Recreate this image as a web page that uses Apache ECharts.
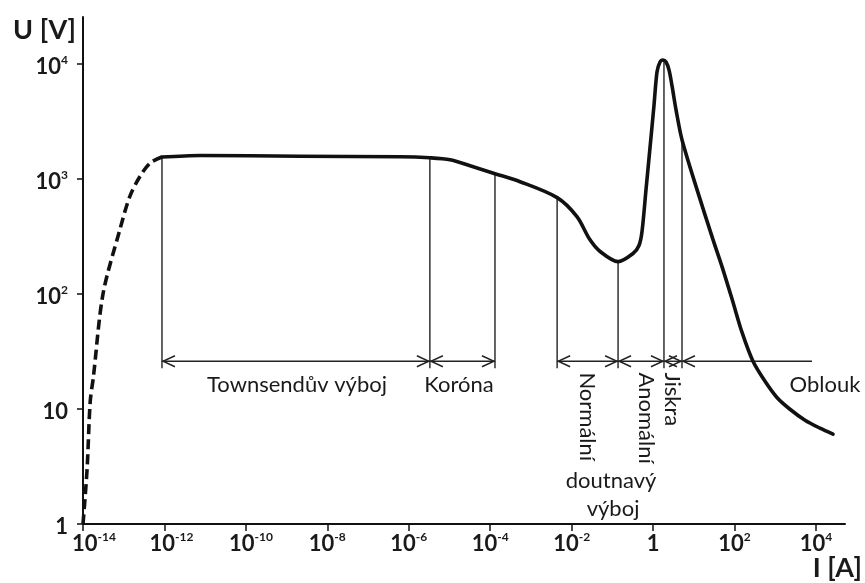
<!DOCTYPE html>
<html><head><meta charset="utf-8">
<script src="https://cdn.jsdelivr.net/npm/echarts@6/dist/echarts.min.js"></script>
<style>html,body{margin:0;padding:0;background:#fff}#c{width:865px;height:583px}</style>
</head><body><div id="c"></div>
<script>
// ---------------- data (current I in A, voltage U in V) ----------------
const dashedI = [1e-14, 1.26e-14, 1.5e-14, 1.8e-14, 3.1e-14, 8e-14, 1.4e-13, 2.5e-13, 4.5e-13, 8.7e-13];
const dashedU = [1, 3, 11.5, 19, 100, 360, 700, 1050, 1380, 1550];

const solidI = [8.7e-13, 7.5e-12, 2.1e-9, 6.1e-7, 3.3e-6, 1.03e-5, 3.2e-5, 1.31e-4, 5.4e-4, 4.4e-3,
                1.35e-2, 2.8e-2, 5e-2, 0.138, 0.321, 0.451, 0.535, 0.67, 0.84, 1.05,
                1.25, 1.48, 1.75, 2.08, 2.46, 2.92, 3.66, 5.13, 12, 29.6,
                49.3, 88, 153, 284, 561, 1100, 2300, 5380, 12560, 26200];
const solidU = [1550, 1600, 1575, 1560, 1528, 1469, 1303, 1111, 946, 688,
                470, 297, 234, 191, 225, 264, 349, 807, 1867, 4320,
                8530, 10400, 10830, 10400, 8870, 6440, 3990, 2190, 807, 297,
                173, 89, 46.3, 26, 17.4, 12.6, 9.95, 7.99, 6.81, 6.04];

// region boundaries (vertical lines) and brackets
const dividerI = [8.7e-13, 3.3e-6, 1.31e-4, 4.4e-3, 0.138, 1.85, 5.13];
const dividerTopU = [1550, 1528, 1111, 688, 191, 10700, 2100];
const dividerBottomU = 22.6;

const bracketStartI = [8.7e-13, 3.3e-6, 4.4e-3, 0.138, 1.85, 5.13];
const bracketEndI   = [3.3e-6, 1.31e-4, 0.138, 1.85, 5.13, 8000];
const bracketArrowL = [1, 1, 1, 1, 1, 1];
const bracketArrowR = [1, 1, 1, 1, 1, 0];
const bracketU = 26;

// region labels
const labelText = ['Townsendův výboj', 'Koróna', 'Normální', 'doutnavý', 'výboj', 'Anomální', 'Jiskra', 'Oblouk'];
const labelI = [1.8e-9, 1.71e-5, 0.0238, 0.093, 0.104, 0.67, 3.0, 16600];
const labelU = [16.1, 16.1, 20.8, 2.36, 1.35, 20.8, 20.8, 16.1];
const labelVertical = [0, 0, 1, 0, 0, 1, 1, 0];

// axis ticks (decade exponents)
const xTickExp = [-14, -12, -10, -8, -6, -4, -2, 0, 2, 4];
const yTickExp = [0, 1, 2, 3, 4];
const xRange = [-14, 4.713];
const yRange = [0, 4.408];

// ---------------- chart ----------------
const lg = Math.log10;
const FONT = 'Lato';
const INK = '#1a1a1a';

function decadeLabel(v) {
  if (v === 0) return '{b|1}';
  if (v === 1) return '{b|10}';
  return '{b|10}{s|' + v + '}';
}
const xShift = { '-14': 'sp1', '-12': 'sp2', '-10': 'sp3' };

const rich = {
  b: { fontFamily: FONT, fontWeight: 'bold', fontSize: 22, color: INK, lineHeight: 26 },
  s: { fontFamily: FONT, fontWeight: 'bold', fontSize: 12, color: INK, lineHeight: 14, verticalAlign: 'top' },
  sp1: { width: 22 }, sp2: { width: 14 }, sp3: { width: 10 }
};

const chart = echarts.init(document.getElementById('c'), null, { renderer: 'canvas' });

const option = {
  animation: false,
  backgroundColor: '#fff',
  grid: { left: 83, right: 20, top: 17, bottom: 58, containLabel: false },
  xAxis: {
    type: 'value', min: xRange[0], max: xRange[1],
    name: 'I [A]', nameLocation: 'end', nameGap: 17, nameMoveOverlap: false,
    nameTextStyle: { fontFamily: FONT, fontWeight: 'bold', fontSize: 27, color: INK, align: 'right', verticalAlign: 'top', padding: [29, 0, 0, 0], lineHeight: 30 },
    axisLine: { onZero: false, lineStyle: { color: '#111', width: 2 } },
    axisTick: { show: true, length: 7, lineStyle: { color: '#111', width: 1.5 }, customValues: xTickExp },
    axisLabel: {
      customValues: xTickExp, margin: 7, rich: rich,
      formatter: function (v) {
        if (Math.abs(v - Math.round(v)) > 1e-6) return '';
        const k = xShift[String(v)];
        return (k ? '{' + k + '|}' : '') + decadeLabel(v);
      }
    },
    splitLine: { show: false }
  },
  yAxis: {
    type: 'value', min: yRange[0], max: yRange[1],
    name: 'U [V]', nameLocation: 'end', nameGap: -13, nameMoveOverlap: false,
    nameTextStyle: { fontFamily: FONT, fontWeight: 'bold', fontSize: 27, color: INK, align: 'right', verticalAlign: 'middle', padding: [0, 7, 0, 0] },
    axisLine: { show: true, onZero: false, lineStyle: { color: '#111', width: 2 } },
    axisTick: { show: true, length: 6, lineStyle: { color: '#111', width: 1.5 }, customValues: yTickExp },
    axisLabel: {
      customValues: yTickExp, margin: 15, rich: rich, padding: [6, 0, 0, 0],
      formatter: function (v) {
        if (Math.abs(v - Math.round(v)) > 1e-6) return '';
        return decadeLabel(v);
      }
    },
    splitLine: { show: false }
  },
  series: [
    {
      type: 'line', name: 'dashed', showSymbol: false, smooth: 0.3, z: 4,
      data: dashedI.map((v, i) => [lg(v), lg(dashedU[i])]),
      lineStyle: { color: '#111', width: 3.6, type: [10, 5], cap: 'butt' }
    },
    {
      type: 'line', name: 'solid', showSymbol: false, smooth: 0.3, z: 4,
      data: solidI.map((v, i) => [lg(v), lg(solidU[i])]),
      lineStyle: { color: '#111', width: 3.6, cap: 'round', join: 'round' }
    },
    {
      type: 'custom', name: 'dividers', z: 3, silent: true,
      data: dividerI.map((v, i) => [lg(v), lg(dividerTopU[i])]),
      renderItem: function (params, api) {
        const p0 = api.coord([api.value(0), api.value(1)]);
        const p1 = api.coord([api.value(0), lg(dividerBottomU)]);
        return { type: 'line', shape: { x1: p0[0], y1: p0[1], x2: p1[0], y2: p1[1] },
                 style: { stroke: '#222', lineWidth: 1.4 } };
      }
    },
    {
      type: 'custom', name: 'brackets', z: 3, silent: true,
      data: bracketStartI.map((v, i) => [lg(v), lg(bracketEndI[i]), bracketArrowL[i], bracketArrowR[i]]),
      renderItem: function (params, api) {
        const yv = lg(bracketU);
        const a = api.coord([api.value(0), yv]);
        const b = api.coord([api.value(1), yv]);
        const st = { stroke: '#222', lineWidth: 1.4, fill: null };
        const ch = [{ type: 'line', shape: { x1: a[0], y1: a[1], x2: b[0], y2: b[1] }, style: st }];
        const L = 13, H = 5.5;
        if (api.value(2)) ch.push({ type: 'polyline', shape: { points: [[a[0] + L, a[1] - H], [a[0] + 1, a[1]], [a[0] + L, a[1] + H]] }, style: st });
        if (api.value(3)) ch.push({ type: 'polyline', shape: { points: [[b[0] - L, b[1] - H], [b[0] - 1, b[1]], [b[0] - L, b[1] + H]] }, style: st });
        return { type: 'group', children: ch };
      }
    },
    {
      type: 'custom', name: 'labels', z: 5, silent: true,
      data: labelI.map((v, i) => [lg(v), lg(labelU[i]), i]),
      renderItem: function (params, api) {
        const i = api.value(2);
        const p = api.coord([api.value(0), api.value(1)]);
        const vert = labelVertical[i] === 1;
        return {
          type: 'text', x: p[0], y: p[1], rotation: vert ? -Math.PI / 2 : 0,
          style: { text: labelText[i], fontFamily: FONT, fontSize: 22, fill: INK,
                   align: vert ? 'left' : 'center', verticalAlign: 'middle' }
        };
      }
    }
  ]
};
chart.setOption(option);
</script>
</body></html>
